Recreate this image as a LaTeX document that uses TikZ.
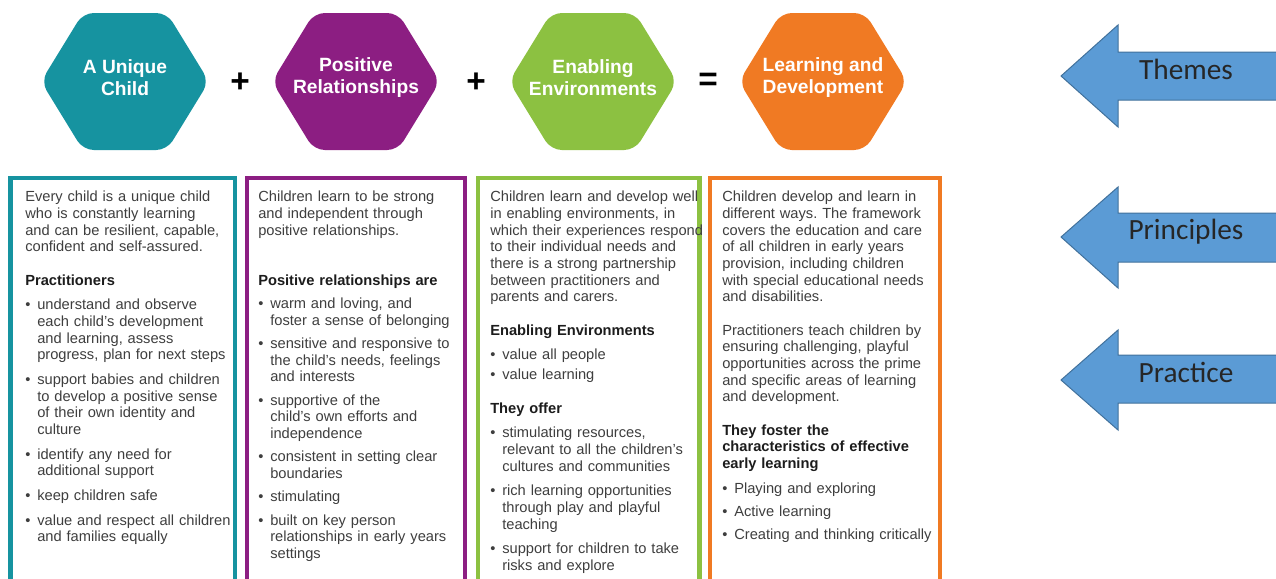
\documentclass[tikz,border=0pt]{standalone}
\usepackage{fontspec}
\setmainfont{Liberation Sans}
\newfontfamily\arrowfont{Carlito}
\usetikzlibrary{positioning}
\setlength{\parindent}{0pt}
\frenchspacing

\definecolor{tealc}{RGB}{22,147,160}
\definecolor{purplec}{RGB}{140,30,130}
\definecolor{greenc}{RGB}{140,193,65}
\definecolor{orangec}{RGB}{240,122,35}
\definecolor{bodytext}{RGB}{62,62,62}
\definecolor{headtext}{RGB}{28,28,28}
\definecolor{arrowblue}{RGB}{91,155,213}
\definecolor{arrowedge}{RGB}{65,113,156}

\newlength\bhang
\setlength\bhang{9pt}
\newcommand{\bitem}[1][6pt]{\par\vspace{#1}\noindent\hangindent=\bhang\hangafter=1\makebox[\bhang][l]{\textbullet}\ignorespaces}
\newcommand{\bhead}[2][12.5pt]{\par\vspace{#1}\noindent{\bfseries\color{headtext}#2}}
\newcommand{\npar}[1][12.5pt]{\par\vspace{#1}\noindent\ignorespaces}

\tikzset{
  hexa/.style={rounded corners=8pt},
  hextext/.style={text=white, align=center, font=\fontsize{14.4}{16.5}\selectfont\bfseries},
  sign/.style={font=\fontsize{25}{25}\selectfont\bfseries},
  panel/.style={line width=3.4pt},
  paneltext/.style={anchor=north west, inner sep=0pt, text width=165pt, align=left,
    text=bodytext, font=\fontsize{11}{12.5}\selectfont},
  bluearrow/.style={fill=arrowblue, draw=arrowedge, line width=0.75pt},
  arrowlabel/.style={text=black!85, font=\arrowfont\fontsize{22}{22}\selectfont}
}

\begin{document}
\begin{tikzpicture}[x=0.75pt,y=-0.75pt]
\useasboundingbox (0,0) rectangle (1276,578);

%themes
\fill[hexa,tealc,shift={(125,0)}] (-84,81.5) -- (-42,13) -- (42,13) -- (84,81.5) -- (42,150) -- (-42,150) -- cycle;
\node[hextext] (hexchild) at (125,78) {A Unique\\Child};
\node[sign] (plusa) at (240,83) {+};
\fill[hexa,purplec,shift={(356,0)}] (-84,81.5) -- (-42,13) -- (42,13) -- (84,81.5) -- (42,150) -- (-42,150) -- cycle;
\node[hextext] (hexrel) at (356,78) {Positive\\Relationships};
\node[sign] (plusb) at (476,83) {+};
\fill[hexa,greenc,shift={(593,0)}] (-84,81.5) -- (-42,13) -- (42,13) -- (84,81.5) -- (42,150) -- (-42,150) -- cycle;
\node[hextext] (hexenv) at (593,78) {Enabling\\Environments};
\node[sign] (equal) at (708,82) {=};
\fill[hexa,orangec,shift={(823,0)}] (-84,81.5) -- (-42,13) -- (42,13) -- (84,81.5) -- (42,150) -- (-42,150) -- cycle;
\node[hextext] (hexlearn) at (823,78) {Learning and\\Development};

%panels
\draw[panel,tealc] (10.5,600) -- (10.5,178) -- (235,178) -- (235,600);
\draw[panel,purplec] (247,600) -- (247,178) -- (465,178) -- (465,600);
\draw[panel,greenc] (478,600) -- (478,178) -- (699.5,178) -- (699.5,600);
\draw[panel,orangec] (710,600) -- (710,178) -- (940,178) -- (940,600);

%unique child
\node[paneltext] (txtchild) at (25,191) {
Every child is a unique child\newline
who is constantly learning\newline
and can be resilient, capable,\newline
confident and self-assured.
\bhead{Practitioners}
\bitem understand and observe\newline each child's development\newline and learning, assess\newline progress, plan for next steps
\bitem support babies and children\newline to develop a positive sense\newline of their own identity and\newline culture
\bitem identify any need for\newline additional support
\bitem keep children safe
\bitem value and respect all children\newline and families equally\par};

%positive relationships
\node[paneltext] (txtrel) at (258,191) {
Children learn to be strong\newline
and independent through\newline
positive relationships.
\bhead[25pt]{Positive relationships are}
\bitem[5pt] warm and loving, and\newline foster a sense of belonging
\bitem[5pt] sensitive and responsive to\newline the child's needs, feelings\newline and interests
\bitem[5pt] supportive of the\newline child's own efforts and\newline independence
\bitem[5pt] consistent in setting clear\newline boundaries
\bitem[5pt] stimulating
\bitem[5pt] built on key person\newline relationships in early years\newline settings\par};

%enabling environments
\node[paneltext] (txtenv) at (490,191) {
Children learn and develop well\newline
in enabling environments, in\newline
which their experiences respond\newline
to their individual needs and\newline
there is a strong partnership\newline
between practitioners and\newline
parents and carers.
\bhead{Enabling Environments}
\bitem value all people
\bitem[2.5pt] value learning
\bhead{They offer}
\bitem stimulating resources,\newline relevant to all the children's\newline cultures and communities
\bitem rich learning opportunities\newline through play and playful\newline teaching
\bitem support for children to take\newline risks and explore\par};

%learning and development
\node[paneltext] (txtlearn) at (722,191) {
Children develop and learn in\newline
different ways. The framework\newline
covers the education and care\newline
of all children in early years\newline
provision, including children\newline
with special educational needs\newline
and disabilities.
\npar Practitioners teach children by\newline
ensuring challenging, playful\newline
opportunities across the prime\newline
and specific areas of learning\newline
and development.
\bhead{They foster the\newline characteristics of effective\newline early learning}
\bitem Playing and exploring
\bitem[5pt] Active learning
\bitem[5pt] Creating and thinking critically\par};

%arrows
\draw[bluearrow] (1061,76) -- (1118,25) -- (1118,52) -- (1290,52) -- (1290,100) -- (1118,100) -- (1118,127) -- cycle;
\node[arrowlabel] (themes) at (1186,69) {Themes};
\draw[bluearrow] (1061,237) -- (1118,187) -- (1118,213) -- (1290,213) -- (1290,262) -- (1118,262) -- (1118,288) -- cycle;
\node[arrowlabel] (principles) at (1186,232) {Principles};
\draw[bluearrow] (1061,380) -- (1118,330) -- (1118,355) -- (1290,355) -- (1290,403) -- (1118,403) -- (1118,430) -- cycle;
\node[arrowlabel] (practice) at (1186,372) {Practice};

\end{tikzpicture}
\end{document}
